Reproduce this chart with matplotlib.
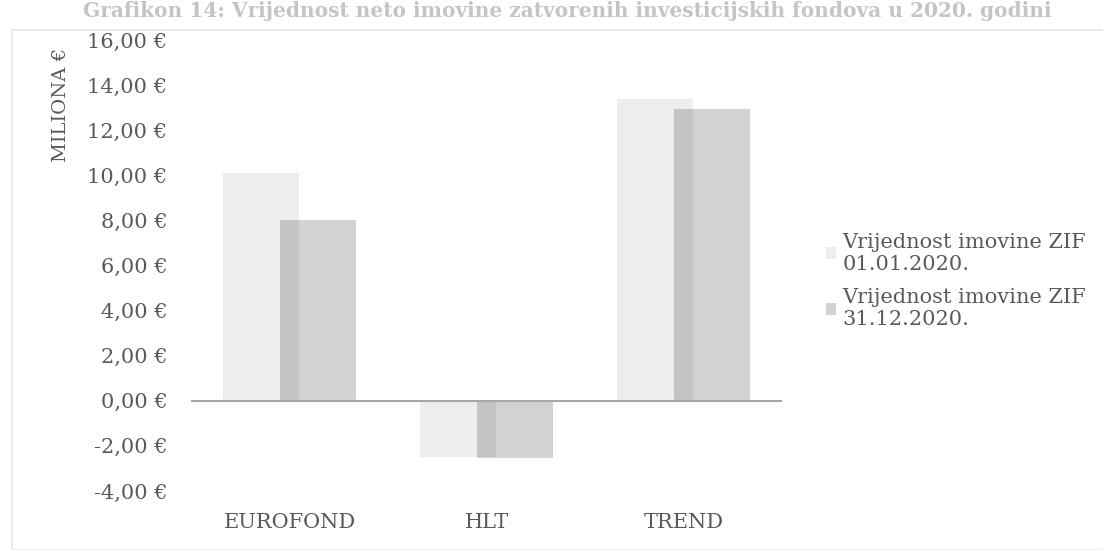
import matplotlib
matplotlib.use("Agg")
import matplotlib.pyplot as plt
import numpy as np
from matplotlib.patches import Rectangle

plt.rcParams['font.family'] = ['DejaVu Serif']

fondovi = ['EUROFOND', 'HLT', 'TREND']
imovina_0101 = [10.1, -2.5, 13.4]     # milijuna €, 01.01.2020.
imovina_3112 = [8.0, -2.55, 12.95]    # milijuna €, 31.12.2020.
serije = ['Vrijednost imovine ZIF\n01.01.2020.', 'Vrijednost imovine ZIF\n31.12.2020.']
yticks = np.arange(-4, 17, 2)

siva = '#595959'

fig = plt.figure(figsize=(11.03, 5.5), dpi=100)
ax = fig.add_axes([191 / 1103, 1 - 491 / 550, (782 - 191) / 1103, (491 - 40) / 550])

x = np.arange(len(fondovi))
w = 0.39
ax.bar(x - 0.145, imovina_0101, w, color='#ededed', label=serije[0], zorder=2)
ax.bar(x + 0.145, imovina_3112, w, color=(0.2, 0.2, 0.2, 0.22), label=serije[1], zorder=3)

ax.axhline(0, color='#a6a6a6', linewidth=1.5, zorder=4)
ax.set_xlim(-0.5, 2.5)
ax.set_ylim(-4, 16)
ax.set_yticks(yticks)
ax.set_yticklabels([f'{v:,.2f} €'.replace('.', ',') for v in yticks])
ax.set_xticks(x)
ax.set_xticklabels(fondovi)
ax.tick_params(axis='both', length=0, labelsize=15, colors=siva)
ax.tick_params(axis='y', pad=17)
ax.tick_params(axis='x', pad=16)
for s in ax.spines.values():
    s.set_visible(False)

fig.text(61 / 1103, 1 - 105 / 550, 'MILIONA €', rotation=90, ha='center', va='center',
         fontsize=14, color=siva)

leg = fig.legend(loc='upper left', bbox_to_anchor=(807 / 1103, 1 - 214 / 550), frameon=False,
                 fontsize=15, handlelength=0.5, handleheight=0.5, handletextpad=0.3,
                 labelspacing=0.7, labelcolor=siva)

# naslov grafikona (na vrhu skena)
fig.text(0.514, 0.999, 'Grafikon 14: Vrijednost neto imovine zatvorenih investicijskih fondova u 2020. godini',
         ha='center', va='top', fontsize=14.5, color='#c4c4c4', fontweight='bold')

# okvir grafikona
fig.patches.append(Rectangle((12 / 1103, 0), 1, 1 - 30 / 550, transform=fig.transFigure,
                             fill=False, edgecolor='#e6e6e6', linewidth=1.2))

fig.savefig('out.png', dpi=100)
